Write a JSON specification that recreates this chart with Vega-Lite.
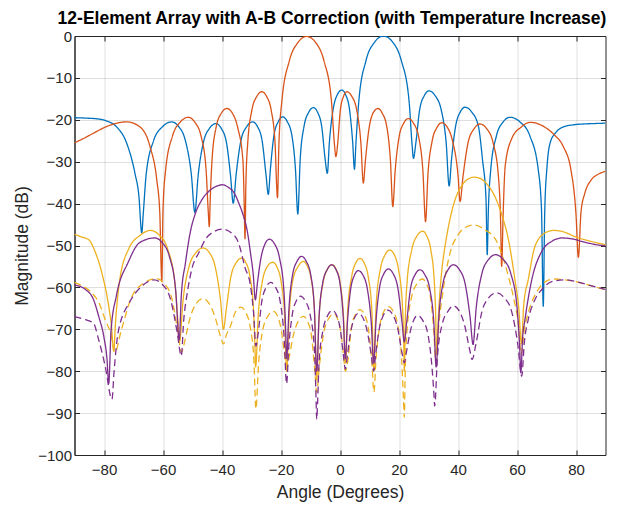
{
"$schema":"https://vega.github.io/schema/vega-lite/v6.json",
"width":531,"height":419,
"autosize":{"type":"none"},
"padding":{"left":74.5,"top":36,"right":25.5,"bottom":55},
"background":"#ffffff",
"title":{"text":"12-Element Array with A-B Correction (with Temperature Increase)","font":"Liberation Sans","fontSize":17.5,"fontWeight":"bold","color":"#000000","frame":"group","anchor":"middle","offset":-12,"dx":-8,"baseline":"alphabetic"},
"config":{"view":{"stroke":"#262626","strokeWidth":1},
"axis":{"domainColor":"#262626","tickColor":"#262626","labelColor":"#262626","titleColor":"#262626","gridColor":"#262626","gridOpacity":0.15,"labelFont":"Liberation Sans","titleFont":"Liberation Sans","labelFontSize":15,"titleFontSize":17.5,"titleFontWeight":"normal","tickSize":-5}},
"data":{"values":[
{"s":"B","x":-90,"y":-19.5},{"s":"B","x":-86,"y":-19.6},{"s":"B","x":-82,"y":-19.8},{"s":"B","x":-79,"y":-20.3},{"s":"B","x":-75.7,"y":-21.7},{"s":"B","x":-72.3,"y":-25.6},{"s":"B","x":-69.5,"y":-32.8},{"s":"B","x":-68.2,"y":-38},{"s":"B","x":-67.2,"y":-47},{"s":"B","x":-66.7,"y":-42.5},{"s":"B","x":-65.7,"y":-33},{"s":"B","x":-63.2,"y":-25},{"s":"B","x":-60.1,"y":-21.6},{"s":"B","x":-57.1,"y":-20.5},{"s":"B","x":-54.7,"y":-21.6},{"s":"B","x":-52.4,"y":-25},{"s":"B","x":-50.4,"y":-33},{"s":"B","x":-49.2,"y":-42.1},{"s":"B","x":-48.1,"y":-33.4},{"s":"B","x":-46.3,"y":-25.4},{"s":"B","x":-44.2,"y":-22},{"s":"B","x":-42,"y":-20.9},{"s":"B","x":-40.3,"y":-22},{"s":"B","x":-38.5,"y":-25.4},{"s":"B","x":-37.1,"y":-33.4},{"s":"B","x":-36.2,"y":-39.9},{"s":"B","x":-35.2,"y":-33},{"s":"B","x":-33.6,"y":-25},{"s":"B","x":-31.6,"y":-21.6},{"s":"B","x":-29.6,"y":-20.5},{"s":"B","x":-28,"y":-21.6},{"s":"B","x":-26.4,"y":-25},{"s":"B","x":-25.1,"y":-33},{"s":"B","x":-24.3,"y":-37.8},{"s":"B","x":-23.6,"y":-31.8},{"s":"B","x":-22.4,"y":-23.8},{"s":"B","x":-20.9,"y":-20.4},{"s":"B","x":-19.4,"y":-19.3},{"s":"B","x":-17.9,"y":-20.4},{"s":"B","x":-16.3,"y":-23.8},{"s":"B","x":-15.1,"y":-31.8},{"s":"B","x":-14.3,"y":-42.5},{"s":"B","x":-13.5,"y":-29.6},{"s":"B","x":-12.2,"y":-21.6},{"s":"B","x":-10.6,"y":-18.2},{"s":"B","x":-9,"y":-17.1},{"s":"B","x":-7.6,"y":-18.2},{"s":"B","x":-6.2,"y":-21.6},{"s":"B","x":-5,"y":-29.6},{"s":"B","x":-4.3,"y":-32.8},{"s":"B","x":-3.6,"y":-25.4},{"s":"B","x":-2.3,"y":-17.4},{"s":"B","x":-0.9,"y":-14},{"s":"B","x":0.6,"y":-12.9},{"s":"B","x":1.9,"y":-14},{"s":"B","x":3.2,"y":-17.4},{"s":"B","x":4.3,"y":-25.4},{"s":"B","x":4.9,"y":-31.8},{"s":"B","x":5.4,"y":-25.6},{"s":"B","x":6.4,"y":-15.4},{"s":"B","x":8.8,"y":-5.9},{"s":"B","x":11.8,"y":-1.4},{"s":"B","x":14.7,"y":0},{"s":"B","x":17.8,"y":-1.4},{"s":"B","x":20.8,"y":-5.9},{"s":"B","x":23.4,"y":-15.4},{"s":"B","x":24.4,"y":-25.6},{"s":"B","x":24.9,"y":-29.2},{"s":"B","x":25.7,"y":-25.6},{"s":"B","x":27,"y":-17.6},{"s":"B","x":28.6,"y":-14.2},{"s":"B","x":30.2,"y":-13.1},{"s":"B","x":32.2,"y":-14.2},{"s":"B","x":34.3,"y":-17.6},{"s":"B","x":36,"y":-25.6},{"s":"B","x":37,"y":-35.8},{"s":"B","x":37.8,"y":-29.5},{"s":"B","x":39.2,"y":-21.5},{"s":"B","x":40.8,"y":-18.1},{"s":"B","x":42.4,"y":-17},{"s":"B","x":44.6,"y":-18.1},{"s":"B","x":46.9,"y":-21.5},{"s":"B","x":48.3,"y":-29.5},{"s":"B","x":49.5,"y":-39},{"s":"B","x":49.9,"y":-52.2},{"s":"B","x":50.3,"y":-41.4},{"s":"B","x":51.1,"y":-31.9},{"s":"B","x":53,"y":-23.9},{"s":"B","x":55.3,"y":-20.5},{"s":"B","x":57.6,"y":-19.4},{"s":"B","x":61,"y":-20.5},{"s":"B","x":64.4,"y":-23.9},{"s":"B","x":67.2,"y":-31.9},{"s":"B","x":68.3,"y":-41.4},{"s":"B","x":68.9,"y":-64.5},{"s":"B","x":69.4,"y":-42},{"s":"B","x":70.2,"y":-31},{"s":"B","x":71.2,"y":-25.6},{"s":"B","x":73.2,"y":-23},{"s":"B","x":75.7,"y":-21.7},{"s":"B","x":79,"y":-21.2},{"s":"B","x":82.5,"y":-21},{"s":"B","x":86,"y":-20.9},{"s":"B","x":90,"y":-20.8},
{"s":"O","x":-90,"y":-25.5},{"s":"O","x":-86.5,"y":-24.3},{"s":"O","x":-83.6,"y":-23.2},{"s":"O","x":-78,"y":-21.3},{"s":"O","x":-72.3,"y":-20.5},{"s":"O","x":-67.8,"y":-21.7},{"s":"O","x":-64.4,"y":-26.4},{"s":"O","x":-62.1,"y":-34.4},{"s":"O","x":-61.1,"y":-42},{"s":"O","x":-60.4,"y":-58.6},{"s":"O","x":-60,"y":-41.4},{"s":"O","x":-59.1,"y":-31.9},{"s":"O","x":-56.8,"y":-23.9},{"s":"O","x":-54.1,"y":-20.5},{"s":"O","x":-51.4,"y":-19.4},{"s":"O","x":-49.3,"y":-20.5},{"s":"O","x":-47.1,"y":-23.9},{"s":"O","x":-45.4,"y":-31.9},{"s":"O","x":-44.7,"y":-41.4},{"s":"O","x":-44.3,"y":-45.5},{"s":"O","x":-44,"y":-39.3},{"s":"O","x":-43.4,"y":-29.8},{"s":"O","x":-42,"y":-21.8},{"s":"O","x":-40.2,"y":-18.4},{"s":"O","x":-38.4,"y":-17.3},{"s":"O","x":-36.5,"y":-18.4},{"s":"O","x":-34.7,"y":-21.8},{"s":"O","x":-32.9,"y":-29.8},{"s":"O","x":-32.5,"y":-39.3},{"s":"O","x":-32.2,"y":-48.4},{"s":"O","x":-31.9,"y":-35.3},{"s":"O","x":-31.3,"y":-25.8},{"s":"O","x":-29.9,"y":-17.8},{"s":"O","x":-28.2,"y":-14.4},{"s":"O","x":-26.5,"y":-13.3},{"s":"O","x":-24.9,"y":-14.4},{"s":"O","x":-23.3,"y":-17.8},{"s":"O","x":-22,"y":-25.8},{"s":"O","x":-21.5,"y":-35.3},{"s":"O","x":-21.2,"y":-38.6},{"s":"O","x":-20.7,"y":-25.7},{"s":"O","x":-19.7,"y":-15.5},{"s":"O","x":-17.2,"y":-6},{"s":"O","x":-14.2,"y":-1.5},{"s":"O","x":-11.3,"y":-0.1},{"s":"O","x":-8.3,"y":-1.5},{"s":"O","x":-5.4,"y":-6},{"s":"O","x":-2.9,"y":-15.5},{"s":"O","x":-1.9,"y":-25.7},{"s":"O","x":-1.4,"y":-28.8},{"s":"O","x":-0.8,"y":-25.8},{"s":"O","x":0.1,"y":-17.8},{"s":"O","x":1.2,"y":-14.4},{"s":"O","x":2.3,"y":-13.3},{"s":"O","x":4,"y":-14.4},{"s":"O","x":5.7,"y":-17.8},{"s":"O","x":7.1,"y":-25.8},{"s":"O","x":7.9,"y":-35.1},{"s":"O","x":8.6,"y":-29.8},{"s":"O","x":9.9,"y":-21.8},{"s":"O","x":11.2,"y":-18.4},{"s":"O","x":12.8,"y":-17.3},{"s":"O","x":14.3,"y":-18.4},{"s":"O","x":15.9,"y":-21.8},{"s":"O","x":17.1,"y":-29.8},{"s":"O","x":17.9,"y":-40.7},{"s":"O","x":18.7,"y":-32.2},{"s":"O","x":20,"y":-24.2},{"s":"O","x":21.6,"y":-20.8},{"s":"O","x":23.2,"y":-19.7},{"s":"O","x":24.9,"y":-20.8},{"s":"O","x":26.7,"y":-24.2},{"s":"O","x":28.1,"y":-32.2},{"s":"O","x":29,"y":-44.3},{"s":"O","x":29.8,"y":-33.2},{"s":"O","x":31.2,"y":-25.2},{"s":"O","x":32.9,"y":-21.8},{"s":"O","x":34.5,"y":-20.7},{"s":"O","x":36.4,"y":-21.8},{"s":"O","x":38.2,"y":-25.2},{"s":"O","x":40,"y":-33.2},{"s":"O","x":40.7,"y":-39.5},{"s":"O","x":41.7,"y":-33.5},{"s":"O","x":43.4,"y":-25.5},{"s":"O","x":45.5,"y":-22.1},{"s":"O","x":47.5,"y":-21},{"s":"O","x":49.7,"y":-22.1},{"s":"O","x":51.9,"y":-25.5},{"s":"O","x":53.7,"y":-33.5},{"s":"O","x":54.4,"y":-43},{"s":"O","x":54.8,"y":-55},{"s":"O","x":55.3,"y":-42.6},{"s":"O","x":56,"y":-31},{"s":"O","x":58.2,"y":-24.5},{"s":"O","x":61.5,"y":-21.7},{"s":"O","x":64.4,"y":-20.6},{"s":"O","x":69.3,"y":-21.7},{"s":"O","x":72.5,"y":-23.5},{"s":"O","x":75.7,"y":-26.4},{"s":"O","x":78.3,"y":-32},{"s":"O","x":80,"y":-42.6},{"s":"O","x":80.8,"y":-52.8},{"s":"O","x":81.7,"y":-42},{"s":"O","x":83,"y":-37.5},{"s":"O","x":85,"y":-34.5},{"s":"O","x":87.5,"y":-33},{"s":"O","x":90,"y":-32.3},
{"s":"Y","x":-90,"y":-47.3},{"s":"Y","x":-87.5,"y":-48},{"s":"Y","x":-85.2,"y":-48.6},{"s":"Y","x":-83,"y":-51.5},{"s":"Y","x":-80.7,"y":-56.6},{"s":"Y","x":-78.4,"y":-64.5},{"s":"Y","x":-77.5,"y":-69},{"s":"Y","x":-76.7,"y":-75.2},{"s":"Y","x":-76.1,"y":-68.4},{"s":"Y","x":-74.8,"y":-58.9},{"s":"Y","x":-71.7,"y":-50.9},{"s":"Y","x":-67.6,"y":-47.5},{"s":"Y","x":-64.3,"y":-46.4},{"s":"Y","x":-61.3,"y":-47.5},{"s":"Y","x":-58.4,"y":-50.9},{"s":"Y","x":-56,"y":-58.9},{"s":"Y","x":-54.9,"y":-68.4},{"s":"Y","x":-54.4,"y":-73},{"s":"Y","x":-53.2,"y":-63.1},{"s":"Y","x":-51.2,"y":-55.1},{"s":"Y","x":-48.8,"y":-51.7},{"s":"Y","x":-46.4,"y":-50.6},{"s":"Y","x":-44.3,"y":-51.7},{"s":"Y","x":-42.3,"y":-55.1},{"s":"Y","x":-40.5,"y":-63.1},{"s":"Y","x":-39.5,"y":-70},{"s":"Y","x":-38.6,"y":-65.5},{"s":"Y","x":-37,"y":-57.5},{"s":"Y","x":-35.2,"y":-54.1},{"s":"Y","x":-33.3,"y":-53},{"s":"Y","x":-31.9,"y":-54.1},{"s":"Y","x":-30.5,"y":-57.5},{"s":"Y","x":-29.3,"y":-65.5},{"s":"Y","x":-28.8,"y":-75},{"s":"Y","x":-28.6,"y":-79},{"s":"Y","x":-27.7,"y":-66.5},{"s":"Y","x":-26.3,"y":-58.5},{"s":"Y","x":-24.7,"y":-55.1},{"s":"Y","x":-22.8,"y":-54},{"s":"Y","x":-21.4,"y":-55.1},{"s":"Y","x":-20,"y":-58.5},{"s":"Y","x":-18.8,"y":-66.5},{"s":"Y","x":-18.1,"y":-80},{"s":"Y","x":-17.2,"y":-66.3},{"s":"Y","x":-16,"y":-58.3},{"s":"Y","x":-14.1,"y":-54.9},{"s":"Y","x":-12.4,"y":-53.8},{"s":"Y","x":-11.1,"y":-54.9},{"s":"Y","x":-9.7,"y":-58.3},{"s":"Y","x":-8.6,"y":-66.3},{"s":"Y","x":-7.9,"y":-82},{"s":"Y","x":-7.1,"y":-67.1},{"s":"Y","x":-5.8,"y":-59.1},{"s":"Y","x":-4.3,"y":-55.7},{"s":"Y","x":-2.7,"y":-54.6},{"s":"Y","x":-1.3,"y":-55.7},{"s":"Y","x":0.1,"y":-59.1},{"s":"Y","x":1.2,"y":-67.1},{"s":"Y","x":1.9,"y":-78},{"s":"Y","x":2.6,"y":-65.6},{"s":"Y","x":3.9,"y":-57.6},{"s":"Y","x":5.3,"y":-54.2},{"s":"Y","x":6.8,"y":-53.1},{"s":"Y","x":8.2,"y":-54.2},{"s":"Y","x":9.6,"y":-57.6},{"s":"Y","x":10.8,"y":-65.6},{"s":"Y","x":11.5,"y":-80},{"s":"Y","x":11.8,"y":-73.1},{"s":"Y","x":12.3,"y":-63.6},{"s":"Y","x":13.7,"y":-55.6},{"s":"Y","x":15.3,"y":-52.2},{"s":"Y","x":16.9,"y":-51.1},{"s":"Y","x":18.4,"y":-52.2},{"s":"Y","x":19.8,"y":-55.6},{"s":"Y","x":21.1,"y":-63.6},{"s":"Y","x":21.6,"y":-73.1},{"s":"Y","x":21.8,"y":-80},{"s":"Y","x":22.1,"y":-68.6},{"s":"Y","x":22.7,"y":-59.1},{"s":"Y","x":24.3,"y":-51.1},{"s":"Y","x":26.1,"y":-47.7},{"s":"Y","x":28,"y":-46.6},{"s":"Y","x":29.4,"y":-47.7},{"s":"Y","x":30.8,"y":-51.1},{"s":"Y","x":32,"y":-59.1},{"s":"Y","x":32.5,"y":-68.6},{"s":"Y","x":32.7,"y":-76},{"s":"Y","x":33.5,"y":-65},{"s":"Y","x":34.5,"y":-56},{"s":"Y","x":35.6,"y":-50.2},{"s":"Y","x":37.2,"y":-44},{"s":"Y","x":39,"y":-39.1},{"s":"Y","x":41.5,"y":-35.5},{"s":"Y","x":43.5,"y":-34.1},{"s":"Y","x":45.5,"y":-33.7},{"s":"Y","x":47.5,"y":-34},{"s":"Y","x":50,"y":-35.5},{"s":"Y","x":52.5,"y":-38.3},{"s":"Y","x":55,"y":-43},{"s":"Y","x":57.1,"y":-48.6},{"s":"Y","x":59.3,"y":-58.2},{"s":"Y","x":60.6,"y":-65},{"s":"Y","x":61.5,"y":-73.5},{"s":"Y","x":62.3,"y":-64},{"s":"Y","x":63.8,"y":-58.2},{"s":"Y","x":66.1,"y":-50.2},{"s":"Y","x":69.5,"y":-47},{"s":"Y","x":72.5,"y":-46.4},{"s":"Y","x":76,"y":-46.8},{"s":"Y","x":79.7,"y":-47.9},{"s":"Y","x":85,"y":-49},{"s":"Y","x":90,"y":-49.8},
{"s":"YD","x":-90,"y":-58.8},{"s":"YD","x":-87,"y":-59.8},{"s":"YD","x":-84.1,"y":-61.3},{"s":"YD","x":-81.5,"y":-64},{"s":"YD","x":-79.6,"y":-67.7},{"s":"YD","x":-77.5,"y":-71.5},{"s":"YD","x":-76.3,"y":-75.5},{"s":"YD","x":-74.2,"y":-70.4},{"s":"YD","x":-70.7,"y":-62.4},{"s":"YD","x":-66.5,"y":-59},{"s":"YD","x":-62.3,"y":-57.9},{"s":"YD","x":-59.7,"y":-59},{"s":"YD","x":-57.1,"y":-62.4},{"s":"YD","x":-55,"y":-70.4},{"s":"YD","x":-53.7,"y":-75.5},{"s":"YD","x":-52.6,"y":-72.7},{"s":"YD","x":-50.8,"y":-67.2},{"s":"YD","x":-48.7,"y":-63.8},{"s":"YD","x":-46.5,"y":-62.7},{"s":"YD","x":-44.4,"y":-63.8},{"s":"YD","x":-42.3,"y":-67.2},{"s":"YD","x":-40.5,"y":-71.7},{"s":"YD","x":-39.5,"y":-73.5},{"s":"YD","x":-38.6,"y":-71.5},{"s":"YD","x":-37.1,"y":-69.2},{"s":"YD","x":-35.4,"y":-65.8},{"s":"YD","x":-33.6,"y":-64.7},{"s":"YD","x":-32.1,"y":-65.8},{"s":"YD","x":-30.5,"y":-69.2},{"s":"YD","x":-29.2,"y":-77.2},{"s":"YD","x":-28.5,"y":-89},{"s":"YD","x":-27.6,"y":-78.2},{"s":"YD","x":-26.2,"y":-70.2},{"s":"YD","x":-24.4,"y":-66.8},{"s":"YD","x":-22.6,"y":-65.7},{"s":"YD","x":-21.2,"y":-66.8},{"s":"YD","x":-19.9,"y":-70.2},{"s":"YD","x":-18.8,"y":-76},{"s":"YD","x":-18.1,"y":-79},{"s":"YD","x":-17.2,"y":-76.5},{"s":"YD","x":-15.8,"y":-71.4},{"s":"YD","x":-14.1,"y":-68},{"s":"YD","x":-12.4,"y":-66.9},{"s":"YD","x":-11.1,"y":-68},{"s":"YD","x":-9.7,"y":-71.4},{"s":"YD","x":-8.6,"y":-79.4},{"s":"YD","x":-7.9,"y":-85},{"s":"YD","x":-7,"y":-78.8},{"s":"YD","x":-5.5,"y":-70.8},{"s":"YD","x":-3.8,"y":-67.4},{"s":"YD","x":-2,"y":-66.3},{"s":"YD","x":-0.9,"y":-67.4},{"s":"YD","x":0.3,"y":-70.8},{"s":"YD","x":1.2,"y":-76},{"s":"YD","x":1.8,"y":-80},{"s":"YD","x":2.6,"y":-77.8},{"s":"YD","x":3.8,"y":-69.8},{"s":"YD","x":5.3,"y":-66.4},{"s":"YD","x":6.8,"y":-65.3},{"s":"YD","x":8.2,"y":-66.4},{"s":"YD","x":9.6,"y":-69.8},{"s":"YD","x":10.8,"y":-77.8},{"s":"YD","x":11.5,"y":-85},{"s":"YD","x":12.2,"y":-77.1},{"s":"YD","x":13.5,"y":-69.1},{"s":"YD","x":14.9,"y":-65.7},{"s":"YD","x":16.4,"y":-64.6},{"s":"YD","x":18,"y":-65.7},{"s":"YD","x":19.6,"y":-69.1},{"s":"YD","x":20.9,"y":-77.1},{"s":"YD","x":21.5,"y":-86.6},{"s":"YD","x":21.8,"y":-91},{"s":"YD","x":22.1,"y":-80},{"s":"YD","x":22.7,"y":-70.5},{"s":"YD","x":24.2,"y":-62.5},{"s":"YD","x":26.1,"y":-59.1},{"s":"YD","x":27.9,"y":-58},{"s":"YD","x":29.3,"y":-59.1},{"s":"YD","x":30.7,"y":-62.5},{"s":"YD","x":31.8,"y":-70.5},{"s":"YD","x":32.5,"y":-78},{"s":"YD","x":33.5,"y":-69},{"s":"YD","x":35,"y":-60.5},{"s":"YD","x":37.3,"y":-51.8},{"s":"YD","x":40,"y":-47.5},{"s":"YD","x":42.5,"y":-45.7},{"s":"YD","x":45.6,"y":-45.1},{"s":"YD","x":49,"y":-46.2},{"s":"YD","x":53.1,"y":-49},{"s":"YD","x":55.3,"y":-53},{"s":"YD","x":57.1,"y":-57.4},{"s":"YD","x":59,"y":-63},{"s":"YD","x":60.5,"y":-69},{"s":"YD","x":61.4,"y":-76},{"s":"YD","x":62.5,"y":-70},{"s":"YD","x":63.8,"y":-66.1},{"s":"YD","x":67.2,"y":-60.5},{"s":"YD","x":70,"y":-58.5},{"s":"YD","x":72.9,"y":-58},{"s":"YD","x":76,"y":-58.2},{"s":"YD","x":79.7,"y":-58.6},{"s":"YD","x":85,"y":-59.6},{"s":"YD","x":90,"y":-60.6},
{"s":"P","x":-90,"y":-59.4},{"s":"P","x":-86.3,"y":-60.5},{"s":"P","x":-83.5,"y":-63},{"s":"P","x":-81.8,"y":-66.9},{"s":"P","x":-80,"y":-72},{"s":"P","x":-79,"y":-77},{"s":"P","x":-78.4,"y":-83},{"s":"P","x":-77.6,"y":-70.2},{"s":"P","x":-75.8,"y":-62},{"s":"P","x":-71.8,"y":-54},{"s":"P","x":-67.9,"y":-49.3},{"s":"P","x":-62.8,"y":-48.2},{"s":"P","x":-60.3,"y":-49.3},{"s":"P","x":-57.8,"y":-52.7},{"s":"P","x":-55.7,"y":-60.7},{"s":"P","x":-54.5,"y":-72.5},{"s":"P","x":-53.8,"y":-62},{"s":"P","x":-52.4,"y":-54.2},{"s":"P","x":-50.8,"y":-47},{"s":"P","x":-49,"y":-42.3},{"s":"P","x":-47,"y":-39.3},{"s":"P","x":-44.5,"y":-37.1},{"s":"P","x":-42,"y":-35.9},{"s":"P","x":-39.9,"y":-35.5},{"s":"P","x":-37.5,"y":-36.3},{"s":"P","x":-36,"y":-37.3},{"s":"P","x":-34.3,"y":-39.9},{"s":"P","x":-32.8,"y":-42.8},{"s":"P","x":-31.5,"y":-46.3},{"s":"P","x":-30.3,"y":-52},{"s":"P","x":-29.4,"y":-57},{"s":"P","x":-28.7,"y":-63},{"s":"P","x":-28,"y":-59},{"s":"P","x":-26.8,"y":-53},{"s":"P","x":-25.4,"y":-49.6},{"s":"P","x":-24,"y":-48.5},{"s":"P","x":-22.2,"y":-49.6},{"s":"P","x":-20.5,"y":-53},{"s":"P","x":-19,"y":-61},{"s":"P","x":-18.4,"y":-70.5},{"s":"P","x":-18.1,"y":-77},{"s":"P","x":-17.3,"y":-65.1},{"s":"P","x":-16.1,"y":-57.1},{"s":"P","x":-14.5,"y":-53.7},{"s":"P","x":-13,"y":-52.6},{"s":"P","x":-11.5,"y":-53.7},{"s":"P","x":-9.9,"y":-57.1},{"s":"P","x":-8.7,"y":-65.1},{"s":"P","x":-7.9,"y":-80},{"s":"P","x":-7.1,"y":-67.1},{"s":"P","x":-5.9,"y":-59.1},{"s":"P","x":-4.3,"y":-55.7},{"s":"P","x":-2.8,"y":-54.6},{"s":"P","x":-1.4,"y":-55.7},{"s":"P","x":0,"y":-59.1},{"s":"P","x":1.1,"y":-67.1},{"s":"P","x":1.8,"y":-77},{"s":"P","x":2.5,"y":-68.5},{"s":"P","x":3.6,"y":-60.5},{"s":"P","x":4.9,"y":-57.1},{"s":"P","x":6.2,"y":-56},{"s":"P","x":7.8,"y":-57.1},{"s":"P","x":9.3,"y":-60.5},{"s":"P","x":10.6,"y":-68.5},{"s":"P","x":11.4,"y":-78},{"s":"P","x":12.2,"y":-68.1},{"s":"P","x":13.4,"y":-60.1},{"s":"P","x":14.9,"y":-56.7},{"s":"P","x":16.4,"y":-55.6},{"s":"P","x":18,"y":-56.7},{"s":"P","x":19.6,"y":-60.1},{"s":"P","x":21,"y":-68.1},{"s":"P","x":21.8,"y":-73},{"s":"P","x":22.6,"y":-68.3},{"s":"P","x":23.9,"y":-60.3},{"s":"P","x":25.5,"y":-56.9},{"s":"P","x":27.1,"y":-55.8},{"s":"P","x":28.7,"y":-56.9},{"s":"P","x":30.4,"y":-60.3},{"s":"P","x":31.8,"y":-68.3},{"s":"P","x":32.6,"y":-79},{"s":"P","x":33.5,"y":-67.1},{"s":"P","x":34.9,"y":-59.1},{"s":"P","x":36.7,"y":-55.7},{"s":"P","x":38.4,"y":-54.6},{"s":"P","x":40.4,"y":-55.7},{"s":"P","x":42.4,"y":-59.1},{"s":"P","x":44.1,"y":-67.1},{"s":"P","x":45.1,"y":-73.6},{"s":"P","x":46.2,"y":-64.7},{"s":"P","x":48.1,"y":-56.7},{"s":"P","x":50.4,"y":-53.3},{"s":"P","x":52.7,"y":-52.2},{"s":"P","x":55.3,"y":-53.3},{"s":"P","x":57.9,"y":-56.7},{"s":"P","x":60,"y":-64.7},{"s":"P","x":60.9,"y":-74.2},{"s":"P","x":61.3,"y":-80.4},{"s":"P","x":61.9,"y":-72},{"s":"P","x":62.7,"y":-67.7},{"s":"P","x":65,"y":-58.2},{"s":"P","x":68.4,"y":-51.4},{"s":"P","x":71.8,"y":-49},{"s":"P","x":75.3,"y":-48.2},{"s":"P","x":78.5,"y":-48.4},{"s":"P","x":81.9,"y":-49},{"s":"P","x":86,"y":-49.7},{"s":"P","x":90,"y":-50.1},
{"s":"PD","x":-90,"y":-67},{"s":"PD","x":-86.3,"y":-67.7},{"s":"PD","x":-83.6,"y":-68.5},{"s":"PD","x":-81.8,"y":-72.5},{"s":"PD","x":-79.6,"y":-78.8},{"s":"PD","x":-77.3,"y":-86.7},{"s":"PD","x":-76.6,"y":-80.2},{"s":"PD","x":-75.2,"y":-70.7},{"s":"PD","x":-71.3,"y":-63.5},{"s":"PD","x":-67.3,"y":-59.8},{"s":"PD","x":-63,"y":-58.2},{"s":"PD","x":-60.2,"y":-59.3},{"s":"PD","x":-57.5,"y":-62.7},{"s":"PD","x":-55.2,"y":-70.7},{"s":"PD","x":-53.8,"y":-76.4},{"s":"PD","x":-53,"y":-68},{"s":"PD","x":-51.7,"y":-61},{"s":"PD","x":-50,"y":-55},{"s":"PD","x":-47.9,"y":-51.8},{"s":"PD","x":-45.5,"y":-48.4},{"s":"PD","x":-43,"y":-46.8},{"s":"PD","x":-39.8,"y":-46.1},{"s":"PD","x":-37,"y":-46.9},{"s":"PD","x":-34.5,"y":-49.2},{"s":"PD","x":-32.1,"y":-55.5},{"s":"PD","x":-30.5,"y":-59},{"s":"PD","x":-29.3,"y":-66},{"s":"PD","x":-28.5,"y":-74},{"s":"PD","x":-27.8,"y":-71.3},{"s":"PD","x":-26.5,"y":-63.3},{"s":"PD","x":-25,"y":-59.9},{"s":"PD","x":-23.5,"y":-58.8},{"s":"PD","x":-21.9,"y":-59.9},{"s":"PD","x":-20.3,"y":-63.3},{"s":"PD","x":-19,"y":-71.3},{"s":"PD","x":-18.1,"y":-83},{"s":"PD","x":-17.4,"y":-74.6},{"s":"PD","x":-16.2,"y":-66.6},{"s":"PD","x":-14.8,"y":-63.2},{"s":"PD","x":-13.4,"y":-62.1},{"s":"PD","x":-11.8,"y":-63.2},{"s":"PD","x":-10.1,"y":-66.6},{"s":"PD","x":-8.7,"y":-74.6},{"s":"PD","x":-8.2,"y":-84.1},{"s":"PD","x":-7.9,"y":-91.5},{"s":"PD","x":-7.6,"y":-87.5},{"s":"PD","x":-7.1,"y":-78},{"s":"PD","x":-5.7,"y":-70},{"s":"PD","x":-4.1,"y":-66.6},{"s":"PD","x":-2.5,"y":-65.5},{"s":"PD","x":-1.2,"y":-66.6},{"s":"PD","x":0.1,"y":-70},{"s":"PD","x":1.2,"y":-76.5},{"s":"PD","x":1.8,"y":-79.5},{"s":"PD","x":2.5,"y":-76.2},{"s":"PD","x":3.6,"y":-70.7},{"s":"PD","x":4.9,"y":-67.3},{"s":"PD","x":6.2,"y":-66.2},{"s":"PD","x":7.8,"y":-67.3},{"s":"PD","x":9.3,"y":-70.7},{"s":"PD","x":10.6,"y":-76.2},{"s":"PD","x":11.4,"y":-80},{"s":"PD","x":12.1,"y":-76},{"s":"PD","x":13.3,"y":-69.9},{"s":"PD","x":14.8,"y":-66.5},{"s":"PD","x":16.2,"y":-65.4},{"s":"PD","x":17.9,"y":-66.5},{"s":"PD","x":19.6,"y":-69.9},{"s":"PD","x":21,"y":-75.5},{"s":"PD","x":21.8,"y":-78},{"s":"PD","x":22.5,"y":-75.5},{"s":"PD","x":23.6,"y":-71.2},{"s":"PD","x":25,"y":-67.8},{"s":"PD","x":26.3,"y":-66.7},{"s":"PD","x":28,"y":-67.8},{"s":"PD","x":29.8,"y":-71.2},{"s":"PD","x":31.2,"y":-79.2},{"s":"PD","x":31.8,"y":-85},{"s":"PD","x":32.1,"y":-88.3},{"s":"PD","x":33,"y":-76.9},{"s":"PD","x":34.6,"y":-68.9},{"s":"PD","x":36.8,"y":-65.5},{"s":"PD","x":38.4,"y":-64.4},{"s":"PD","x":40.3,"y":-65.5},{"s":"PD","x":42.2,"y":-68.9},{"s":"PD","x":44,"y":-75},{"s":"PD","x":44.8,"y":-77.2},{"s":"PD","x":46,"y":-73.8},{"s":"PD","x":48.1,"y":-65.8},{"s":"PD","x":50.5,"y":-62.4},{"s":"PD","x":53,"y":-61.3},{"s":"PD","x":55.6,"y":-62.4},{"s":"PD","x":58.2,"y":-65.8},{"s":"PD","x":60.3,"y":-73.8},{"s":"PD","x":61.6,"y":-81.2},{"s":"PD","x":62.5,"y":-73},{"s":"PD","x":63.8,"y":-67.7},{"s":"PD","x":66.1,"y":-62.9},{"s":"PD","x":68.4,"y":-60.5},{"s":"PD","x":71.8,"y":-58.6},{"s":"PD","x":76.3,"y":-58.2},{"s":"PD","x":80,"y":-58.6},{"s":"PD","x":85,"y":-59.6},{"s":"PD","x":90,"y":-60.5}
]},
"layer":[
{"mark":{"type":"line","interpolate":"monotone","strokeWidth":1.3,"clip":true},
"encoding":{
"x":{"field":"x","type":"quantitative","scale":{"domain":[-90,90],"nice":false,"zero":false},"axis":{"values":[-80,-60,-40,-20,0,20,40,60,80],"title":"Angle (Degrees)","labelPadding":12,"titlePadding":6}},
"y":{"field":"y","type":"quantitative","scale":{"domain":[-100,0],"nice":false,"zero":false},"axis":{"values":[0,-10,-20,-30,-40,-50,-60,-70,-80,-90,-100],"title":"Magnitude (dB)","labelPadding":8,"titlePadding":6}},
"color":{"field":"s","type":"nominal","scale":{"domain":["B","O","Y","YD","P","PD"],"range":["#0072BD","#D95319","#EDB120","#EDB120","#7E2F8E","#7E2F8E"]},"legend":null},
"strokeDash":{"field":"s","type":"nominal","scale":{"domain":["B","O","Y","YD","P","PD"],"range":[[1,0],[1,0],[1,0],[7,4],[1,0],[7,4]]},"legend":null}
}},
{"mark":{"type":"line","opacity":0,"strokeOpacity":0},
"encoding":{
"x":{"field":"x","type":"quantitative","scale":{"domain":[-90,90],"nice":false,"zero":false},"axis":{"orient":"top","values":[-80,-60,-40,-20,0,20,40,60,80],"labels":false,"grid":false,"domain":false,"title":null}},
"y":{"field":"y","type":"quantitative","scale":{"domain":[-100,0],"nice":false,"zero":false},"axis":{"orient":"right","values":[0,-10,-20,-30,-40,-50,-60,-70,-80,-90,-100],"labels":false,"grid":false,"domain":false,"title":null}},
"detail":{"field":"s","type":"nominal"}
}}
],
"resolve":{"axis":{"x":"independent","y":"independent"}}
}
